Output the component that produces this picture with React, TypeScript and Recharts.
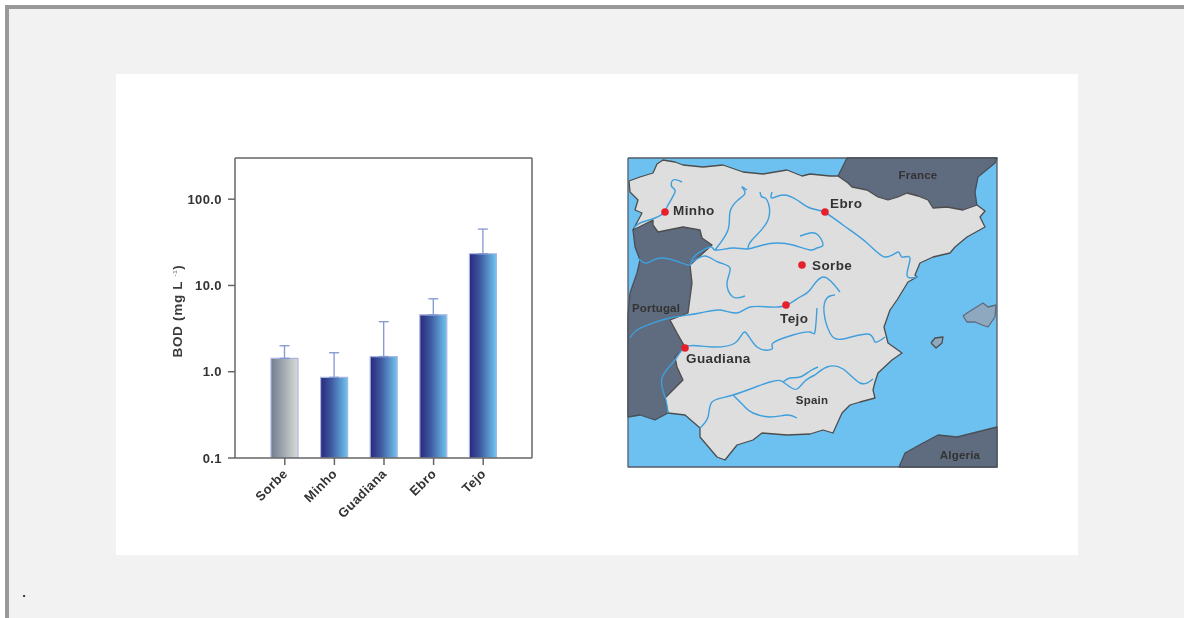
import { Bar, BarChart, CartesianGrid, Cell, ErrorBar, Scatter, ScatterChart, XAxis, YAxis } from 'recharts'

const rivers = ['Sorbe', 'Minho', 'Guadiana', 'Ebro', 'Tejo']
const bodMeans = [1.43, 0.86, 1.5, 4.56, 23.3]
const bodErrorTops = [2.0, 1.66, 3.8, 7.0, 45]
const bodTicks = [0.1, 1, 10, 100]

const barData = rivers.map((name, i) => ({
  name,
  bod: bodMeans[i],
  err: [0, bodErrorTops[i] - bodMeans[i]],
}))

// map outlines in map units
type Pt = [number, number]

const seaFrame: Pt[] = [[628, 158], [997, 158], [997, 467], [628, 467]]

const spainOutline: Pt[] = [
  [629, 181], [640, 177], [653, 173], [657, 164], [663, 160], [675, 162], [683, 165], [703, 167], [723, 165],
  [743, 172], [763, 174], [787, 170], [802, 176], [810, 174], [830, 176], [838, 176], [848, 183], [852, 187],
  [867, 190], [878, 197], [888, 200], [898, 197], [907, 193], [918, 196], [928, 200], [933, 208], [947, 207],
  [963, 210], [977, 205], [985, 211], [980, 217], [985, 227], [967, 237], [955, 247], [950, 253], [933, 257],
  [920, 263], [915, 275], [917, 277], [908, 282], [897, 300], [890, 310], [884, 327], [888, 343], [902, 353],
  [892, 360], [878, 373], [875, 382], [873, 390], [875, 398], [860, 402], [850, 405], [842, 413], [833, 433],
  [823, 430], [810, 434], [787, 435], [762, 433], [753, 440], [737, 445], [725, 460], [717, 457], [700, 437],
  [700, 428], [685, 415], [668, 413], [665, 398], [683, 380], [677, 367], [675, 357], [685, 347], [677, 333],
  [670, 320], [688, 313], [692, 283], [690, 265], [712, 245], [702, 238], [700, 230], [683, 227], [658, 232],
  [653, 225], [653, 220], [633, 230], [642, 213], [635, 210], [638, 200], [630, 192],
]
const portugalOutline: Pt[] = [
  [653, 221], [637, 225], [633, 230], [635, 247], [640, 260], [637, 273], [630, 293], [628, 315], [628, 417],
  [640, 415], [655, 420], [668, 413], [690, 400], [700, 300], [716, 245], [700, 225],
]
const franceOutline: Pt[] = [
  [847, 158], [838, 176], [860, 200], [960, 215], [977, 206], [975, 192], [978, 177], [995, 163], [997, 158],
]
const algeriaOutline: Pt[] = [
  [899, 467], [905, 453], [923, 443], [938, 435], [957, 437], [977, 432], [997, 427], [997, 467],
]
const mallorcaOutline: Pt[] = [
  [963, 316], [967, 313], [983, 303], [988, 307], [996, 305], [995, 317], [988, 327], [982, 325], [975, 322], [967, 322],
]
const ibizaOutline: Pt[] = [[931, 343], [935, 338], [943, 337], [942, 343], [936, 348]]

const riverCourses: Pt[][] = [
  // Minho
  [[682, 182], [673, 180], [672, 187], [675, 192], [667, 207], [665, 212], [655, 218], [640, 223], [634, 228]],
  // Duero and its tributaries
  [[800, 236], [810, 233], [818, 235], [823, 245], [817, 248], [810, 250], [793, 245], [777, 243], [763, 245], [747, 249],
    [733, 248], [715, 250], [710, 247], [693, 258], [688, 265], [663, 258], [647, 263], [638, 258]],
  [[747, 190], [742, 187], [745, 193], [738, 200], [730, 212], [728, 230], [715, 250]],
  [[760, 192], [762, 197], [767, 200], [768, 220], [752, 240], [748, 249]],
  [[692, 262], [705, 256], [718, 262], [730, 268], [727, 283], [733, 297], [745, 296]],
  // Ebro
  [[772, 192], [772, 198], [783, 195], [797, 200], [810, 208], [824, 212], [843, 225], [867, 243], [885, 257], [898, 252],
    [902, 257], [910, 258], [907, 275], [917, 277]],
  // Tejo
  [[840, 292], [823, 277], [810, 290], [800, 297], [787, 305], [770, 307], [750, 307], [737, 313], [720, 310], [700, 313],
    [670, 318], [653, 323], [637, 330], [630, 338]],
  // Guadiana
  [[817, 308], [815, 332], [810, 332], [793, 335], [773, 343], [772, 349], [757, 347], [745, 332], [735, 343], [713, 347],
    [700, 346], [685, 347], [675, 360], [662, 378], [665, 397], [668, 413]],
  // Jucar
  [[835, 295], [827, 298], [824, 312], [830, 333], [843, 339], [868, 334], [875, 342], [885, 337]],
  // Guadalquivir
  [[700, 428], [708, 417], [712, 402], [733, 395], [770, 382], [783, 382], [790, 387], [797, 389], [805, 381], [815, 375]],
  [[783, 382], [790, 378], [800, 377], [810, 371], [818, 367]],
  [[733, 395], [745, 407], [753, 413], [770, 417], [787, 415], [797, 418]],
  // Segura
  [[815, 375], [827, 367], [843, 369], [860, 383], [873, 379]],
]

const sites = [
  { x: 665, y: 212 },
  { x: 825, y: 212 },
  { x: 802, y: 265 },
  { x: 786, y: 305 },
  { x: 685, y: 348 },
]
const siteLabels = [
  { x: 673, y: 215, name: 'Minho' },
  { x: 830, y: 208, name: 'Ebro' },
  { x: 812, y: 270, name: 'Sorbe' },
  { x: 780, y: 323, name: 'Tejo' },
  { x: 686, y: 363, name: 'Guadiana' },
]
const countryLabels = [
  { x: 918, y: 179, name: 'France' },
  { x: 656, y: 312, name: 'Portugal' },
  { x: 812, y: 404, name: 'Spain' },
  { x: 960, y: 459, name: 'Algeria' },
]

const toPoints = (pts: Pt[]) => pts.map(([x, y]) => ({ x, y }))
const closed = (pts: Pt[]) => toPoints([...pts, pts[0]])

const FONT = '"Liberation Sans", Arial, sans-serif'
const noSymbol = () => <g />

const shapes = [
  { key: 'sea', pts: seaFrame, fill: '#6dc1f0', stroke: '#555b66' },
  { key: 'france', pts: franceOutline, fill: '#5f6b7e', stroke: '#4a4f58' },
  { key: 'portugal', pts: portugalOutline, fill: '#5f6b7e', stroke: '#4a4f58' },
  { key: 'algeria', pts: algeriaOutline, fill: '#5f6b7e', stroke: '#4a4f58' },
  { key: 'spain', pts: spainOutline, fill: '#dedede', stroke: '#4d4d4d' },
  { key: 'mallorca', pts: mallorcaOutline, fill: '#8ea8bf', stroke: '#5f6b7e' },
  { key: 'ibiza', pts: ibizaOutline, fill: '#8ea8bf', stroke: '#4d4d4d' },
]

function BodLabel() {
  return (
    <text
      transform="translate(66 237) rotate(-90)"
      textAnchor="middle"
      fontFamily={FONT}
      fontWeight="bold"
      fontSize={13.5}
      letterSpacing={0.7}
      fill="#3a3a3a"
    >
      BOD (mg L
      <tspan fontSize={6} dy={-5} dx={2} fill="#888"> -1</tspan>
      <tspan dy={5}>)</tspan>
    </text>
  )
}

function BarPanel() {
  const tickStyle = { fontFamily: FONT, fontWeight: 'bold', fontSize: 13, fill: '#333', letterSpacing: 0.4 }
  return (
    <BarChart
      width={460}
      height={481}
      data={barData}
      margin={{ top: 84, right: 44, bottom: 37, left: 59 }}
      style={{ position: 'absolute', left: 116, top: 74 }}
    >
      <defs>
        <linearGradient id="barGrey" x1="0" y1="0" x2="1" y2="0">
          <stop offset="0%" stopColor="#727c8e" />
          <stop offset="100%" stopColor="#d8dcd8" />
        </linearGradient>
        <linearGradient id="barBlue" x1="0" y1="0" x2="1" y2="0">
          <stop offset="0%" stopColor="#28287e" />
          <stop offset="40%" stopColor="#3f5aa0" />
          <stop offset="100%" stopColor="#6fc4f0" />
        </linearGradient>
      </defs>
      <CartesianGrid horizontalPoints={[84]} verticalPoints={[416]} stroke="#666" strokeWidth={1.5} />
      <XAxis
        dataKey="name"
        height={60}
        interval={0}
        padding={{ left: 25, right: 24 }}
        stroke="#666"
        strokeWidth={1.5}
        tickSize={7}
        tickMargin={3}
        angle={-45}
        textAnchor="end"
        tick={{ ...tickStyle, dx: -3 }}
      />
      <YAxis
        width={60}
        scale="log"
        domain={[0.1, 300]}
        allowDataOverflow
        ticks={bodTicks}
        interval={0}
        tickFormatter={(v: number) => v.toFixed(1)}
        stroke="#666"
        strokeWidth={1.5}
        tickSize={7}
        tickMargin={6}
        tick={tickStyle}
        label={<BodLabel />}
      />
      <Bar dataKey="bod" barSize={27} stroke="#aab6e2" strokeWidth={1.2} isAnimationActive={false}>
        {barData.map((d, i) => (
          <Cell key={d.name} fill={i === 0 ? 'url(#barGrey)' : 'url(#barBlue)'} />
        ))}
        <ErrorBar dataKey="err" direction="y" width={5} stroke="#8296d2" strokeWidth={1.3} isAnimationActive={false} />
      </Bar>
    </BarChart>
  )
}

function MapPanel() {
  return (
    <ScatterChart
      width={371}
      height={311}
      margin={{ top: 1, right: 1, bottom: 1, left: 1 }}
      style={{ position: 'absolute', left: 627, top: 157 }}
    >
      <XAxis type="number" dataKey="x" domain={[628, 997]} hide />
      <YAxis type="number" dataKey="y" domain={[158, 467]} reversed hide />
      {shapes.map((s) => (
        <Scatter
          key={s.key}
          data={closed(s.pts)}
          shape={noSymbol}
          line={{ fill: s.fill, stroke: s.stroke, strokeWidth: 1.3, strokeLinejoin: 'round' }}
          isAnimationActive={false}
        />
      ))}
      {riverCourses.map((r, i) => (
        <Scatter
          key={i}
          data={toPoints(r)}
          shape={noSymbol}
          lineJointType="natural"
          line={{ stroke: '#3f9fdc', strokeWidth: 1.4, strokeLinejoin: 'round', fill: 'none' }}
          isAnimationActive={false}
        />
      ))}
      <Scatter
        data={sites}
        isAnimationActive={false}
        shape={(p: any) => <circle cx={p.cx} cy={p.cy} r={3.8} fill="#e6202a" />}
      />
      <Scatter
        data={siteLabels}
        isAnimationActive={false}
        shape={(p: any) => (
          <text x={p.cx} y={p.cy} fontFamily={FONT} fontWeight="bold" fontSize={13.5} letterSpacing={0.4} fill="#333">
            {p.payload.name}
          </text>
        )}
      />
      <Scatter
        data={countryLabels}
        isAnimationActive={false}
        shape={(p: any) => (
          <text x={p.cx} y={p.cy} textAnchor="middle" fontFamily={FONT} fontWeight="bold" fontSize={11.5} letterSpacing={0.2} fill="#333">
            {p.payload.name}
          </text>
        )}
      />
    </ScatterChart>
  )
}

export default function App() {
  return (
    <div style={{ position: 'absolute', left: 0, top: 0, width: 1184, height: 618, overflow: 'hidden', background: '#fff' }}>
      <div
        style={{
          position: 'absolute',
          left: 5,
          top: 5,
          width: 1179,
          height: 613,
          boxSizing: 'border-box',
          background: '#f2f2f2',
          borderTop: '4px solid #999',
          borderLeft: '4px solid #999',
        }}
      />
      <div style={{ position: 'absolute', left: 116, top: 74, width: 962, height: 481, background: '#fff' }} />
      <div style={{ position: 'absolute', left: 0, top: 0, width: 1184, height: 618, filter: 'blur(0.6px)' }}>
        <BarPanel />
        <MapPanel />
      </div>
      <div style={{ position: 'absolute', left: 22, top: 583, fontFamily: '"Liberation Serif", serif', fontSize: 16, color: '#000' }}>.</div>
    </div>
  )
}
